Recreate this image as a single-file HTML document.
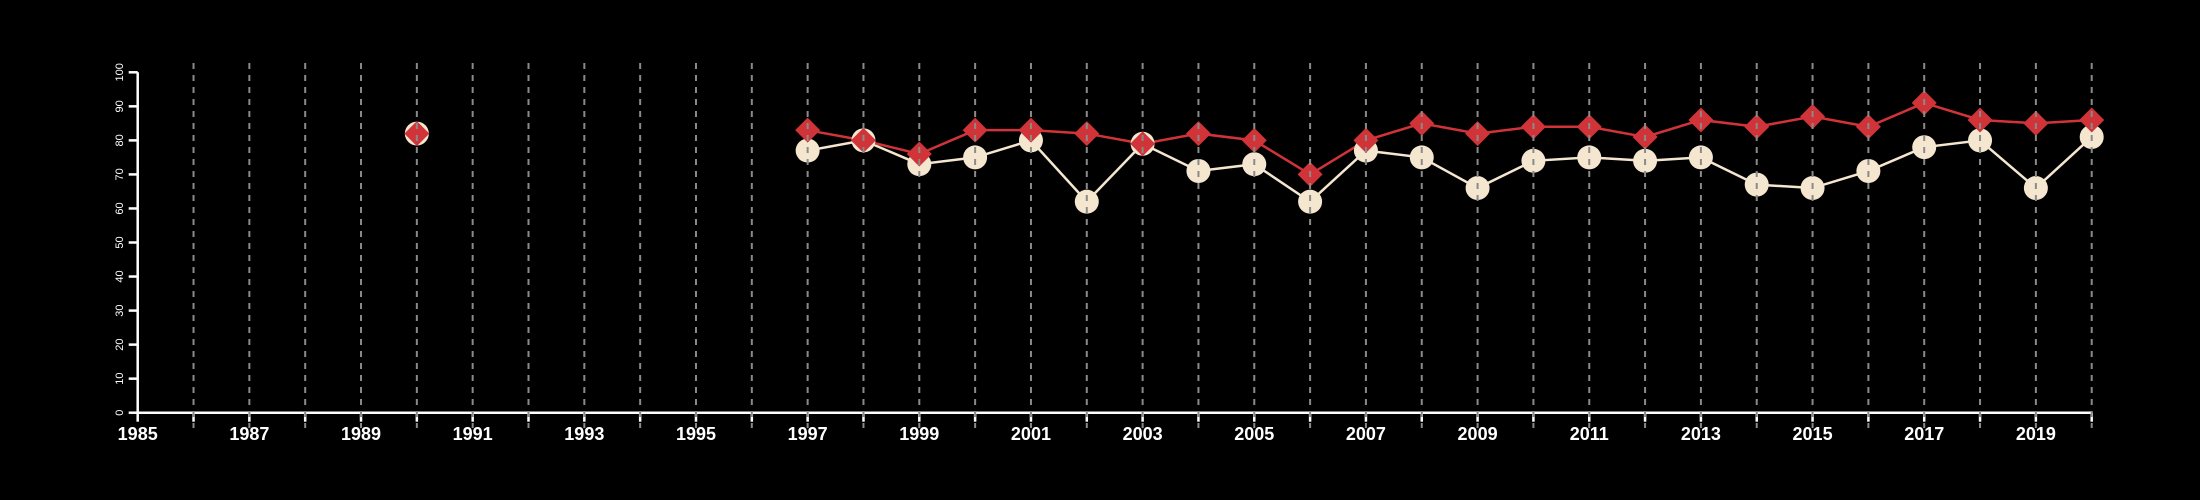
<!DOCTYPE html>
<html><head><meta charset="utf-8"><style>
html,body{margin:0;padding:0;background:#000;}
svg{display:block;font-family:"Liberation Sans",Arial,sans-serif;}
</style></head><body>
<svg id="chart" width="2200" height="500" viewBox="0 0 2200 500" xmlns="http://www.w3.org/2000/svg">
<rect width="2200" height="500" fill="#000"/>
<g id="axes"></g><g id="lines"></g><g id="marks"></g><g id="grid"></g>
</svg>
<script>
const years = [1990,1997,1998,1999,2000,2001,2002,2003,2004,2005,2006,2007,2008,2009,2010,2011,2012,2013,2014,2015,2016,2017,2018,2019,2020];
const redValues = [82,83,80,76,83,83,82,79,82,80,70,80,85,82,84,84,81,86,84,87,84,91,86,85,86];
const creamValues = [82,77,80,73,75,80,62,79,71,73,62,77,75,66,74,75,74,75,67,66,71,78,80,66,81];
const yTicks = [0,10,20,30,40,50,60,70,80,90,100];
const xLabelYears = [1985,1987,1989,1991,1993,1995,1997,1999,2001,2003,2005,2007,2009,2011,2013,2015,2017,2019];
const xMin = 1985, xMax = 2020;
const NS = "http://www.w3.org/2000/svg";
const X0 = 137.7, X1 = 2091.7, Y0 = 412.7, Y1 = 72.3;
const xs = v => X0 + (v - xMin) / (xMax - xMin) * (X1 - X0);
const ys = v => Y0 - v / 100 * (Y0 - Y1);
function mk(tag, attrs, parent){const e=document.createElementNS(NS,tag);for(const k in attrs)e.setAttribute(k,attrs[k]);parent.appendChild(e);return e;}
const axes=document.getElementById('axes'), lines=document.getElementById('lines'), marks=document.getElementById('marks'), grid=document.getElementById('grid');
// y axis
let e=mk('line',{x1:X0,y1:Y1,x2:X0,y2:Y0,stroke:'#fff','stroke-width':2.5},axes);


yTicks.forEach(t=>{
  let l=mk('line',{x1:X0-9,y1:ys(t),x2:X0,y2:ys(t),stroke:'#fff','stroke-width':2.5},axes);
  
  
  let tx=mk('text',{x:0,y:0,fill:'#fff','font-size':11,'text-anchor':'middle',transform:`translate(120,${ys(t)}) rotate(-90)`,'dominant-baseline':'middle'},axes);
  tx.textContent=t;
  
  
});
// x axis
e=mk('line',{x1:X0,y1:Y0,x2:X1,y2:Y0,stroke:'#fff','stroke-width':2.5},axes);


for(let yr=xMin;yr<=xMax;yr++){
  let l=mk('line',{x1:xs(yr),y1:Y0,x2:xs(yr),y2:Y0+9,stroke:'#fff','stroke-width':2.5},axes);
  
  
  if(yr>xMin){
    let g=mk('line',{x1:xs(yr),y1:63,x2:xs(yr),y2:428,stroke:'#8a8a8a','stroke-width':2,'stroke-dasharray':'6,6'},grid);
    
    
  }
}
xLabelYears.forEach(yr=>{
  let tx=mk('text',{x:xs(yr),y:440,fill:'#fff','font-size':18,'font-weight':'bold','text-anchor':'middle'},axes);
  tx.textContent=yr;
  
  
});
function series(vals,color,name){
  // break path where years are not consecutive
  let d='';
  for(let i=0;i<years.length;i++){
    const cont = i>0 && years[i]-years[i-1]===1;
    d += (cont?'L':'M')+xs(years[i])+','+ys(vals[i]);
  }
  let p=mk('path',{d:d,fill:'none',stroke:color,'stroke-width':2.5},lines);
  
  
}
series(creamValues,'#f5e6d0','cream-series');
series(redValues,'#d13438','red-series');
years.forEach((yr,i)=>{
  let c=mk('circle',{cx:xs(yr),cy:ys(creamValues[i]),r:12,fill:'#f5e6d0'},marks);
  
  
});
years.forEach((yr,i)=>{
  const cx=xs(yr), cy=ys(redValues[i]), h=12.5;
  let p=mk('polygon',{points:`${cx},${cy-h} ${cx+h},${cy} ${cx},${cy+h} ${cx-h},${cy}`,fill:'#d13438'},marks);
  
  
});
</script>
</body></html>
